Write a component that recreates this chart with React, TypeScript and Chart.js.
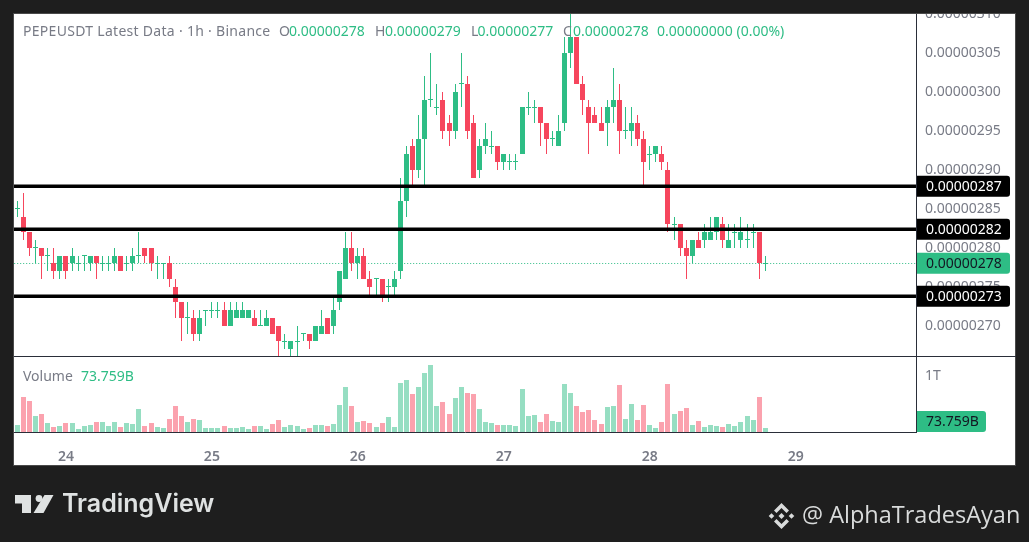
import React, { useEffect, useRef } from "react";
import { Chart, registerables } from "chart.js";

Chart.register(...registerables);

// Prices are in units of 0.00000001 USDT, one candle per hour.
const opens = [
  285,284,282,280,280,279,278,277,279,278,
  278,279,278,279,278,278,278,279,278,278,
  279,280,280,278,278,278,275,273,271,271,
  269,272,272,272,272,270,271,271,271,271,
  270,270,271,270,268,267,268,269,269,268,
  269,271,270,273,276,280,278,279,276,276,
  276,275,275,277,286,293,290,294,299,298,
  299,296,295,301,301,296,290,293,293,293,
  291,291,291,292,298,298,298,296,294,293,
  296,305,307,301,298,297,296,296,298,299,
  295,295,296,294,292,292,292,290,283,283,
  280,279,281,281,281,282,283,280,282,281,
  281,282,282,278,
];
const highs = [
  286,287,282,281,280,280,280,279,279,280,
  279,279,279,279,279,279,280,279,279,280,
  282,280,280,279,278,279,276,273,273,272,
  272,272,273,273,273,273,273,273,272,272,
  272,272,271,270,269,268,270,269,269,270,
  272,271,274,277,282,282,280,280,277,276,
  276,276,277,289,293,294,297,302,305,301,
  300,297,301,305,302,297,294,296,295,293,
  292,292,292,298,300,299,298,296,295,297,
  307,311,307,302,299,298,298,299,303,301,
  298,298,297,295,293,293,293,291,284,283,
  281,281,282,283,284,284,284,283,283,284,
  283,283,282,279,
];
const lows = [
  284,281,279,278,276,277,276,276,276,277,
  277,277,277,276,277,277,277,277,277,277,
  278,278,277,276,276,275,271,268,269,268,
  268,270,271,271,270,270,271,271,271,270,
  270,270,269,265,267,265,265,268,267,268,
  269,269,269,272,276,277,276,276,274,274,
  273,273,274,276,284,288,289,288,298,297,
  294,293,294,298,294,289,289,292,292,290,
  290,290,290,292,297,296,293,292,293,293,
  295,303,301,297,292,296,295,293,296,292,
  294,293,293,288,290,291,290,282,281,279,
  276,278,280,280,281,281,280,280,280,280,
  280,280,276,277,
];
const closes = [
  285,282,280,280,279,279,277,279,277,279,
  278,279,279,278,278,278,279,277,278,279,
  279,279,278,278,278,276,273,271,271,269,
  271,272,272,272,270,272,272,272,272,270,
  270,271,269,268,268,268,268,269,268,270,
  270,269,272,277,280,278,279,276,275,276,
  274,275,276,286,292,290,294,299,299,298,
  295,295,300,301,295,289,293,294,293,291,
  292,291,291,298,298,298,296,294,294,295,
  305,307,301,299,296,296,295,298,299,295,
  295,296,294,291,292,293,291,283,283,280,
  279,281,280,282,282,284,281,281,282,282,
  281,282,278,278,
];
// Volume in billions.
const volumes = [
  126,630,558,288,324,162,90,108,162,162,
  54,108,126,180,180,108,180,90,162,144,
  414,108,162,90,72,234,468,288,180,234,
  216,72,72,72,108,72,72,90,54,108,
  108,54,144,216,90,126,108,54,72,126,
  126,108,144,486,810,468,180,198,162,90,
  162,270,90,882,936,684,810,1062,1206,468,
  540,324,612,810,702,684,414,180,162,126,
  126,126,108,774,288,306,180,324,198,180,
  864,702,468,360,396,216,144,450,468,846,
  234,504,216,486,126,72,180,864,324,378,
  432,126,198,90,126,108,90,144,108,180,
  288,216,630,73.759,
];
const dayHours = [8, 32, 56, 80, 104, 128];
const dayLabels = ["24", "25", "26", "27", "28", "29"];
const levelPrices = [287.87, 282.36, 273.77];
const levelLabels = ["0.00000287", "0.00000282", "0.00000273"];
const lastPrice = 278;
const lastPriceLabel = "0.00000278";
const lastVolumeLabel = "73.759B";
const volumeTicks = [1000];
const volumeTickLabels = ["1T"];

const GREEN = "#2ebd85";
const RED = "#f6465d";
const GREEN_SOFT = "#96dec2";
const RED_SOFT = "#fba2ae";
const GRAY = "#787b86";
const DARK = "#1e1e1e";
const LINE = "#2a2e39";
const FONT = '"Noto Sans", sans-serif';

const hours = closes.map((_, i) => i);
const isUp = hours.map((i) => closes[i] >= opens[i]);
const candleColors = isUp.map((u) => (u ? GREEN : RED));
const volumeColors = isUp.map((u) => (u ? GREEN_SOFT : RED_SOFT));

const snapPlugin = {
  id: "snap",
  afterDatasetsUpdate(chart: any) {
    chart.data.datasets.forEach((ds: any, di: number) => {
      const meta = chart.getDatasetMeta(di);
      if (ds.type === "line") {
        if (ds.borderWidth === 1) {
          meta.data.forEach((el: any) => {
            el.y = Math.floor(el.y) + 0.5;
          });
        }
        return;
      }
      meta.data.forEach((el: any) => {
        el.x = Math.floor(el.x) + 0.5;
        el.y = Math.round(el.y);
        el.base = Math.round(el.base);
        if (Math.abs(el.base - el.y) < 1) el.base = el.y + 1;
      });
    });
  },
};

function box(ctx: any, x: number, yc: number, w: number, h: number, fill: string, text: string, color: string) {
  ctx.fillStyle = fill;
  ctx.beginPath();
  ctx.roundRect(x, yc - h / 2, w, h, [0, 3, 3, 0]);
  ctx.fill();
  ctx.fillStyle = color;
  ctx.font = `14px ${FONT}`;
  ctx.textAlign = "left";
  ctx.textBaseline = "middle";
  ctx.fillText(text, x + 9, yc + 0.5);
}

function poly(ctx: any, pts: number[][]) {
  ctx.beginPath();
  pts.forEach((p, i) => (i ? ctx.lineTo(p[0], p[1]) : ctx.moveTo(p[0], p[1])));
  ctx.closePath();
  ctx.fill();
}

const framePlugin = {
  id: "frame",
  beforeDraw(chart: any) {
    const ctx = chart.ctx;
    ctx.save();
    ctx.fillStyle = DARK;
    ctx.fillRect(0, 0, 1029, 542);
    ctx.fillStyle = "#ffffff";
    ctx.fillRect(13, 13, 1003, 453);
    ctx.restore();
  },
  afterDraw(chart: any) {
    const ctx = chart.ctx;
    const y = chart.scales.y;
    ctx.save();
    // mask what overflows the panel, panel edge
    ctx.fillStyle = DARK;
    ctx.fillRect(0, 0, 1029, 13);
    ctx.strokeStyle = "#4a4a4a";
    ctx.lineWidth = 1;
    ctx.strokeRect(13.5, 13.5, 1002, 452);
    // pane separator
    ctx.strokeStyle = LINE;
    ctx.beginPath();
    ctx.moveTo(14, 356.5);
    ctx.lineTo(1016, 356.5);
    ctx.stroke();

    // price labels
    box(ctx, 917, y.getPixelForValue(lastPrice), 93, 21, GREEN, lastPriceLabel, "#131722");
    levelPrices.forEach((p, i) =>
      box(ctx, 917, y.getPixelForValue(p), 93, 21, "#000000", levelLabels[i], "#ffffff")
    );
    box(ctx, 917, 421.5, 69, 21, GREEN, lastVolumeLabel, "#131722");

    // legends
    ctx.textBaseline = "middle";
    ctx.textAlign = "left";
    ctx.font = `14px ${FONT}`;
    ctx.fillStyle = GRAY;
    ctx.letterSpacing = "0.29px";
    ctx.fillText("PEPEUSDT Latest Data · 1h · Binance", 23, 32.5);
    ctx.letterSpacing = "0px";
    ctx.fillText("O", 279, 32.5);
    ctx.fillText("H", 375, 32.5);
    ctx.fillText("L", 471, 32.5);
    ctx.fillText("C", 563, 32.5);
    ctx.fillText("Volume", 23, 377);
    ctx.fillStyle = GREEN;
    ctx.fillText("0.00000278", 289, 32.5);
    ctx.fillText("0.00000279", 385, 32.5);
    ctx.fillText("0.00000277", 477.5, 32.5);
    ctx.fillText("0.00000278", 573, 32.5);
    ctx.fillText("0.00000000 (0.00%)", 657, 32.5);
    ctx.fillText(lastVolumeLabel, 81, 377);

    // TradingView mark
    ctx.fillStyle = "#dfe2e2";
    poly(ctx, [[15, 495], [31, 495], [31, 513], [22, 513], [22, 503.5], [15, 503.5]]);
    ctx.beginPath();
    ctx.arc(39, 498.5, 3.4, 0, Math.PI * 2);
    ctx.fill();
    poly(ctx, [[44.5, 495], [53.5, 495], [43.5, 513], [33.5, 513]]);
    ctx.font = `600 25px Inter, ${FONT}`;
    ctx.fillText("TradingView", 62, 504);

    // Binance mark
    const c = 781.5;
    const m = 516;
    ctx.fillStyle = "#d9dbdb";
    poly(ctx, [[c, m - 3], [c + 3, m], [c, m + 3], [c - 3, m]]);
    poly(ctx, [[c - 10, m - 2.8], [c - 7.2, m], [c - 10, m + 2.8], [c - 12.8, m]]);
    poly(ctx, [[c + 10, m - 2.8], [c + 12.8, m], [c + 10, m + 2.8], [c + 7.2, m]]);
    poly(ctx, [[c, m - 13], [c + 7.5, m - 5.5], [c + 5, m - 3], [c, m - 8], [c - 5, m - 3], [c - 7.5, m - 5.5]]);
    poly(ctx, [[c, m + 13], [c + 7.5, m + 5.5], [c + 5, m + 3], [c, m + 8], [c - 5, m + 3], [c - 7.5, m + 5.5]]);
    ctx.font = `23.5px "Open Sans", sans-serif`;
    ctx.fillText("@ AlphaTradesAyan", 802, 516);
    ctx.restore();
  },
};

const fitRightAxis = (s: any) => {
  s.width = 100;
  s.paddingTop = 0;
  s.paddingBottom = 0;
};

export default function App() {
  const ref = useRef<HTMLCanvasElement | null>(null);
  useEffect(() => {
    document.body.style.margin = "0";
    document.body.style.background = DARK;
    const chart = new Chart(ref.current as HTMLCanvasElement, {
      type: "bar",
      data: {
        datasets: [
          ...levelPrices.map((p) => ({
            type: "line",
            xAxisID: "x",
            yAxisID: "y",
            data: [{ x: -1, y: p }, { x: 148, y: p }],
            borderColor: "#000000",
            borderWidth: 3.5,
            pointRadius: 0,
            order: 0,
          })),
          {
            type: "line",
            xAxisID: "x",
            yAxisID: "y",
            data: [{ x: -1, y: lastPrice }, { x: 148, y: lastPrice }],
            borderColor: GREEN,
            borderWidth: 1,
            borderDash: [1, 2],
            pointRadius: 0,
            order: 4,
          },
          {
            label: "bodies",
            xAxisID: "x",
            yAxisID: "y",
            data: hours.map((i) => ({
              x: i,
              y: opens[i] === closes[i] ? [closes[i] - 0.06, closes[i] + 0.06] : [opens[i], closes[i]],
            })),
            backgroundColor: candleColors,
            barThickness: 5,
            grouped: false,
            inflateAmount: 0,
            order: 1,
          },
          {
            label: "wicks",
            xAxisID: "x",
            yAxisID: "y",
            data: hours.map((i) => ({ x: i, y: [lows[i], highs[i]] })),
            backgroundColor: candleColors,
            barThickness: 1,
            grouped: false,
            inflateAmount: 0,
            order: 2,
          },
          {
            label: "volume",
            xAxisID: "x",
            yAxisID: "v",
            data: hours.map((i) => ({ x: i, y: volumes[i] })),
            backgroundColor: volumeColors,
            barThickness: 5,
            grouped: false,
            inflateAmount: 0,
            order: 3,
          },
        ] as any,
      },
      options: {
        animation: false,
        responsive: false,
        devicePixelRatio: 1,
        layout: { padding: { left: 14, right: 13, top: 13, bottom: 76 } },
        plugins: { legend: { display: false }, tooltip: { enabled: false } },
        scales: {
          x: {
            type: "linear",
            offset: false,
            min: -0.54,
            max: 147.79,
            grid: { display: false },
            border: { color: LINE },
            afterBuildTicks: (s: any) => {
              s.ticks = dayHours.map((value) => ({ value }));
            },
            afterFit: (s: any) => {
              s.height = 34;
            },
            ticks: {
              autoSkip: false,
              maxRotation: 0,
              color: GRAY,
              padding: 9,
              font: { family: "Noto Sans", size: 14, weight: "600" },
              callback: (val: any) => dayLabels[dayHours.indexOf(Number(val))],
            },
          },
          y: {
            type: "linear",
            position: "right",
            stack: "panes",
            stackWeight: 343,
            weight: 1,
            min: 266.12,
            max: 310.09,
            grid: { display: false, drawTicks: false },
            border: { color: LINE },
            afterFit: fitRightAxis,
            ticks: {
              stepSize: 5,
              includeBounds: false,
              autoSkip: false,
              color: GRAY,
              padding: 9,
              font: { family: "Noto Sans", size: 14 },
              callback: (val: any) => (Number(val) * 1e-8).toFixed(8),
            },
          },
          v: {
            type: "linear",
            position: "right",
            stack: "panes",
            stackWeight: 76,
            weight: 2,
            min: 0,
            max: 1368,
            grid: { display: false, drawTicks: false },
            border: { color: LINE },
            afterBuildTicks: (s: any) => {
              s.ticks = volumeTicks.map((value) => ({ value }));
            },
            afterFit: fitRightAxis,
            ticks: {
              autoSkip: false,
              color: GRAY,
              padding: 9,
              font: { family: "Noto Sans", size: 14 },
              callback: (val: any) => volumeTickLabels[volumeTicks.indexOf(Number(val))],
            },
          },
        },
      } as any,
      plugins: [snapPlugin, framePlugin] as any,
    });
    return () => chart.destroy();
  }, []);
  return <canvas ref={ref} width={1029} height={542} style={{ display: "block" }} />;
}
